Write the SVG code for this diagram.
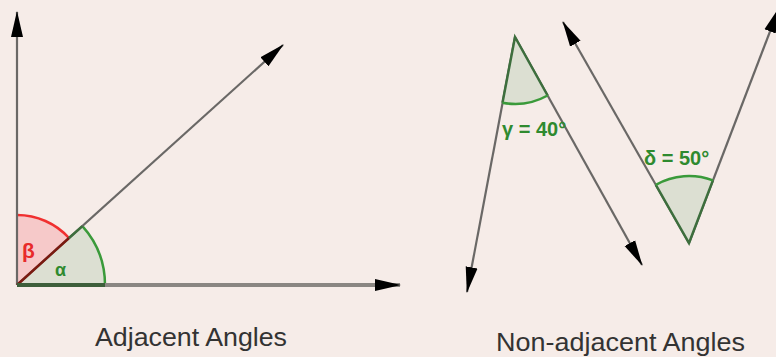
<svg xmlns="http://www.w3.org/2000/svg" width="776" height="357" viewBox="0 0 776 357">
<style>
.ray{stroke:#6a6866;stroke-width:2.2;fill:none}
.gsec{fill:#dcdfd2;stroke:none}
.gedge{stroke:#3d6e3d;stroke-width:2.5;fill:none}
.garc{stroke:#3a9a3a;stroke-width:2.5;fill:none}
.lbl{font-family:"Liberation Sans",Arial,sans-serif;fill:#2f8a2f;font-weight:bold}
.cap{font-family:"Liberation Sans",Arial,sans-serif;fill:#333;font-size:25px}
</style>
<defs>
<marker id="ah" markerUnits="userSpaceOnUse" markerWidth="28" markerHeight="14" refX="25" refY="7" orient="auto">
<path d="M0,1 L26,7 L0,13 Z" fill="#000"/>
</marker>
</defs>
<rect width="776" height="357" fill="#f6ece8"/>

<g id="adjacent">
<path id="beta" d="M17,285 L17,215 A70,70 0 0,1 69,238 Z" fill="#f6c9c9"/>
<path d="M17,215 A70,70 0 0,1 69,238" stroke="#f03030" stroke-width="2.5" fill="none"/>
<path id="alpha" d="M17,285 L82.4,226.1 A88,88 0 0,1 105,285 Z" class="gsec"/>
<path d="M82.4,226.1 A88,88 0 0,1 105,285" class="garc"/>
<text class="lbl" x="22" y="258" font-size="21" style="fill:#e82a2a">β</text>
<text class="lbl" x="55" y="276" font-size="18">α</text>
</g>

<g id="connectors">
<line class="ray" x1="17" y1="285" x2="17" y2="12" marker-end="url(#ah)"/>
<line class="ray" x1="17" y1="285" x2="400" y2="285" style="stroke:#8a8682;stroke-width:4" marker-end="url(#ah)"/>
<line class="ray" x1="17" y1="285" x2="283" y2="45" marker-end="url(#ah)"/>
<line x1="17" y1="285" x2="69" y2="238" stroke="#7a1a10" stroke-width="2.5"/>
<line x1="69" y1="238" x2="82.4" y2="226.1" stroke="#3d6e3d" stroke-width="2.5"/>
<line x1="17" y1="285" x2="105" y2="285" stroke="#3d5e3a" stroke-width="4"/>

<line class="ray" x1="515" y1="37" x2="467" y2="292" marker-end="url(#ah)"/>
<line class="ray" x1="515" y1="37" x2="642" y2="265" marker-end="url(#ah)"/>
<line class="ray" x1="689" y1="243" x2="563" y2="22" marker-end="url(#ah)"/>
<line class="ray" x1="689" y1="243" x2="779" y2="8" marker-end="url(#ah)"/>
</g>

<g id="gamma">
<path d="M515,37 L502.5,102.8 A67,67 0 0,0 547.6,95.5 Z" class="gsec"/>
<path d="M502.5,102.8 L515,37 L547.6,95.5" class="gedge"/>
<path d="M502.5,102.8 A67,67 0 0,0 547.6,95.5" class="garc"/>
<text class="lbl" x="502" y="136" font-size="20">γ = 40°</text>
</g>

<g id="delta">
<path d="M689,243 L655.8,184.8 A67,67 0 0,1 712.9,180.4 Z" class="gsec"/>
<path d="M655.8,184.8 L689,243 L712.9,180.4" class="gedge"/>
<path d="M655.8,184.8 A67,67 0 0,1 712.9,180.4" class="garc"/>
<text class="lbl" x="644" y="165" font-size="20">δ = 50°</text>
</g>

<g id="captions">
<text class="cap" x="95" y="346" textLength="192" lengthAdjust="spacingAndGlyphs">Adjacent Angles</text>
<text class="cap" x="496" y="351" textLength="249" lengthAdjust="spacingAndGlyphs">Non-adjacent Angles</text>
</g>
</svg>
